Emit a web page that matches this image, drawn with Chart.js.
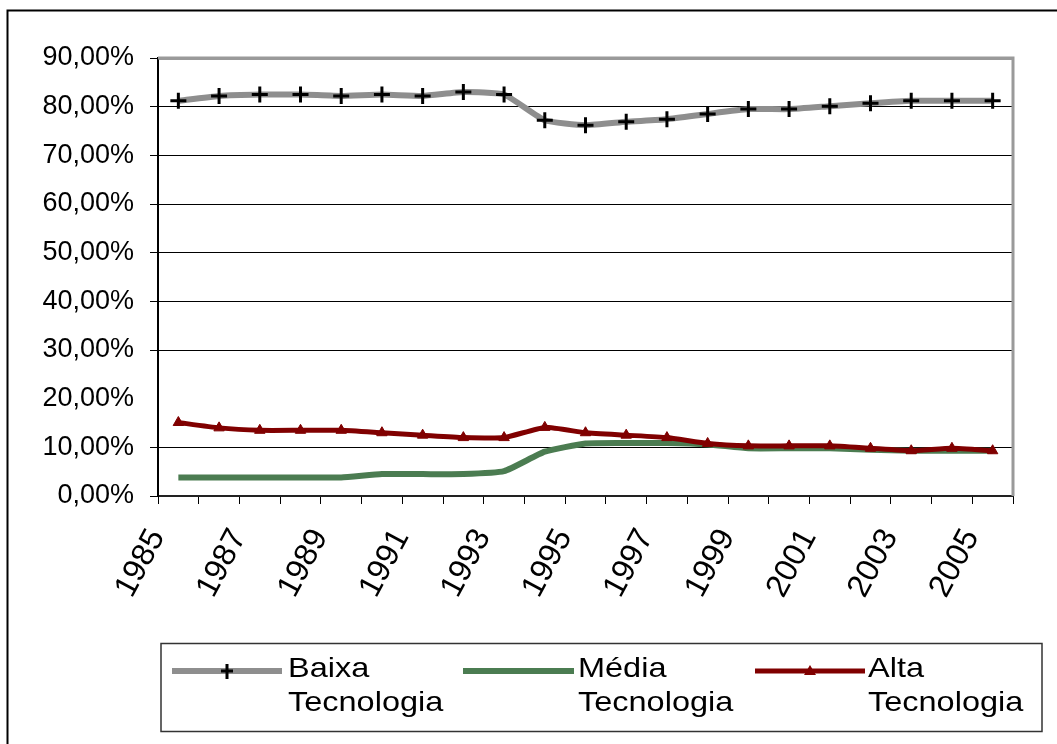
<!DOCTYPE html>
<html>
<head>
<meta charset="utf-8">
<script src="https://cdn.jsdelivr.net/npm/chart.js@4/dist/chart.umd.min.js"></script>
<style>
  html, body { margin: 0; padding: 0; background: #fff; }
  #wrap { position: relative; width: 1057px; height: 744px; }
</style>
</head>
<body>
<div id="wrap"><canvas id="c" width="1057" height="744"></canvas></div>
<script>
// Years on the horizontal axis (every second one is labelled)
const years = [1985, 1986, 1987, 1988, 1989, 1990, 1991, 1992, 1993, 1994, 1995,
               1996, 1997, 1998, 1999, 2000, 2001, 2002, 2003, 2004, 2005];

// Share of each technology group, in percent
const baixa = [81.2, 82.2, 82.5, 82.5, 82.2, 82.5, 82.2, 83.0, 82.5, 77.2, 76.2,
               76.9, 77.4, 78.5, 79.5, 79.5, 80.1, 80.7, 81.2, 81.2, 81.2];
const media = [3.8, 3.8, 3.8, 3.8, 3.8, 4.5, 4.5, 4.5, 5.1, 9.1, 10.8,
               10.9, 10.9, 10.6, 9.8, 9.8, 9.8, 9.5, 9.3, 9.3, 9.3];
const alta  = [15.1, 14.0, 13.5, 13.5, 13.5, 13.0, 12.5, 12.0, 12.0, 14.1, 13.0,
               12.5, 12.0, 10.8, 10.3, 10.3, 10.3, 9.8, 9.3, 9.8, 9.3];

const seriesNames = [['Baixa', 'Tecnologia'], ['Média', 'Tecnologia'], ['Alta', 'Tecnologia']];

const yMin = 0, yMax = 90, yStep = 10;

const FONT = "'Liberation Sans', Arial, Helvetica, sans-serif";
const GRAY = '#8e8e8e';
const GREEN = '#4b7c51';
const RED = '#800000';

// Page frame, plot frame and the boxed legend
const decor = {
  id: 'decor',
  beforeDraw(chart) {
    const ctx = chart.ctx;
    ctx.save();
    ctx.fillStyle = '#fff';
    ctx.fillRect(0, 0, chart.width, chart.height);
    ctx.strokeStyle = '#000';
    ctx.lineWidth = 2;
    ctx.beginPath();
    ctx.moveTo(7.5, chart.height);
    ctx.lineTo(7.5, 10.5);
    ctx.lineTo(chart.width, 10.5);
    ctx.stroke();
    ctx.restore();
  },
  beforeDatasetsDraw(chart) {
    const ctx = chart.ctx;
    const a = chart.chartArea;
    ctx.save();
    ctx.strokeStyle = '#9a9a9a';
    ctx.lineWidth = 3;
    ctx.beginPath();
    ctx.moveTo(a.left, a.top);
    ctx.lineTo(a.right, a.top);
    ctx.lineTo(a.right, a.bottom);
    ctx.stroke();
    ctx.restore();
  },
  afterDraw(chart) {
    const ctx = chart.ctx;
    ctx.save();
    // legend box
    ctx.strokeStyle = '#333';
    ctx.lineWidth = 1.5;
    ctx.strokeRect(161, 643.5, 881, 88);

    const items = [
      { x0: 172, x1: 282, tx: 288, color: GRAY, width: 6, marker: 'cross' },
      { x0: 463, x1: 574, tx: 578, color: GREEN, width: 6, marker: null },
      { x0: 755, x1: 865, tx: 868, color: RED, width: 5, marker: 'triangle' }
    ];
    const ly = 671;
    items.forEach((it, i) => {
      ctx.strokeStyle = it.color;
      ctx.lineWidth = it.width;
      ctx.lineCap = 'butt';
      ctx.beginPath();
      ctx.moveTo(it.x0, ly);
      ctx.lineTo(it.x1, ly);
      ctx.stroke();
      const mx = (it.x0 + it.x1) / 2;
      if (it.marker === 'cross') {
        ctx.strokeStyle = '#000';
        ctx.lineWidth = 3;
        ctx.beginPath();
        ctx.moveTo(mx - 6, ly); ctx.lineTo(mx + 6, ly);
        ctx.moveTo(mx, ly - 7); ctx.lineTo(mx, ly + 8);
        ctx.stroke();
      } else if (it.marker === 'triangle') {
        ctx.fillStyle = it.color;
        ctx.beginPath();
        ctx.moveTo(mx, ly - 6);
        ctx.lineTo(mx + 6, ly + 4);
        ctx.lineTo(mx - 6, ly + 4);
        ctx.closePath();
        ctx.fill();
      }
      ctx.fillStyle = '#000';
      ctx.font = '28px ' + FONT;
      ctx.textBaseline = 'alphabetic';
      ctx.textAlign = 'left';
      seriesNames[i].forEach((line, k) => {
        ctx.save();
        ctx.translate(it.tx, 677 + k * 34);
        ctx.scale(1.16, 1);
        ctx.fillText(line, 0, 0);
        ctx.restore();
      });
    });
    ctx.restore();
  }
};

const fmtPct = v => v.toFixed(2).replace('.', ',') + '%';

new Chart(document.getElementById('c'), {
  type: 'line',
  data: {
    labels: years,
    datasets: [
      {
        label: seriesNames[0].join(' '),
        data: baixa,
        borderColor: GRAY,
        borderWidth: 6,
        tension: 0.15,
        pointStyle: 'cross',
        pointRadius: 8,
        pointBorderColor: '#000',
        pointBorderWidth: 3,
        order: 2
      },
      {
        label: seriesNames[1].join(' '),
        data: media,
        borderColor: GREEN,
        borderWidth: 6,
        tension: 0.15,
        pointRadius: 0,
        order: 1
      },
      {
        label: seriesNames[2].join(' '),
        data: alta,
        borderColor: RED,
        borderWidth: 5,
        tension: 0.15,
        pointStyle: 'triangle',
        pointRadius: 6,
        pointBackgroundColor: RED,
        pointBorderColor: RED,
        pointBorderWidth: 1,
        order: 0
      }
    ]
  },
  options: {
    responsive: false,
    animation: false,
    devicePixelRatio: 1,
    events: [],
    layout: { padding: { top: 58, right: 44, left: 0, bottom: 0 } },
    plugins: {
      legend: { display: false },
      tooltip: { enabled: false }
    },
    scales: {
      x: {
        type: 'category',
        offset: true,
        afterFit(s) { s.height = 248; },
        grid: {
          offset: true,
          drawOnChartArea: false,
          drawTicks: true,
          tickLength: 8,
          color: '#000',
          lineWidth: 1
        },
        border: { color: '#222', width: 2 },
        ticks: {
          autoSkip: false,
          minRotation: 62,
          maxRotation: 62,
          padding: 19,
          labelOffset: -21,
          color: '#000',
          font: { family: FONT, size: 32 },
          callback: (v, i) => (i % 2 === 0 ? String(years[i]) : '')
        }
      },
      y: {
        min: yMin,
        max: yMax,
        afterFit(s) { s.width = 158; },
        grid: {
          drawTicks: true,
          tickLength: 8,
          color: c => (c.tick.value === 20 ? 'rgba(0,0,0,0)' : c.tick.value === yMax ? '#9a9a9a' : '#000'),
          tickColor: c => (c.tick.value === 20 ? 'rgba(0,0,0,0)' : '#000'),
          lineWidth: c => (c.tick.value === yMax ? 3 : 1),
          tickWidth: 1
        },
        border: { color: '#000', width: 2 },
        ticks: {
          stepSize: yStep,
          padding: 16,
          color: '#000',
          font: { family: FONT, size: 27 },
          callback: v => fmtPct(v)
        }
      }
    }
  },
  plugins: [decor]
});
</script>
</body>
</html>
